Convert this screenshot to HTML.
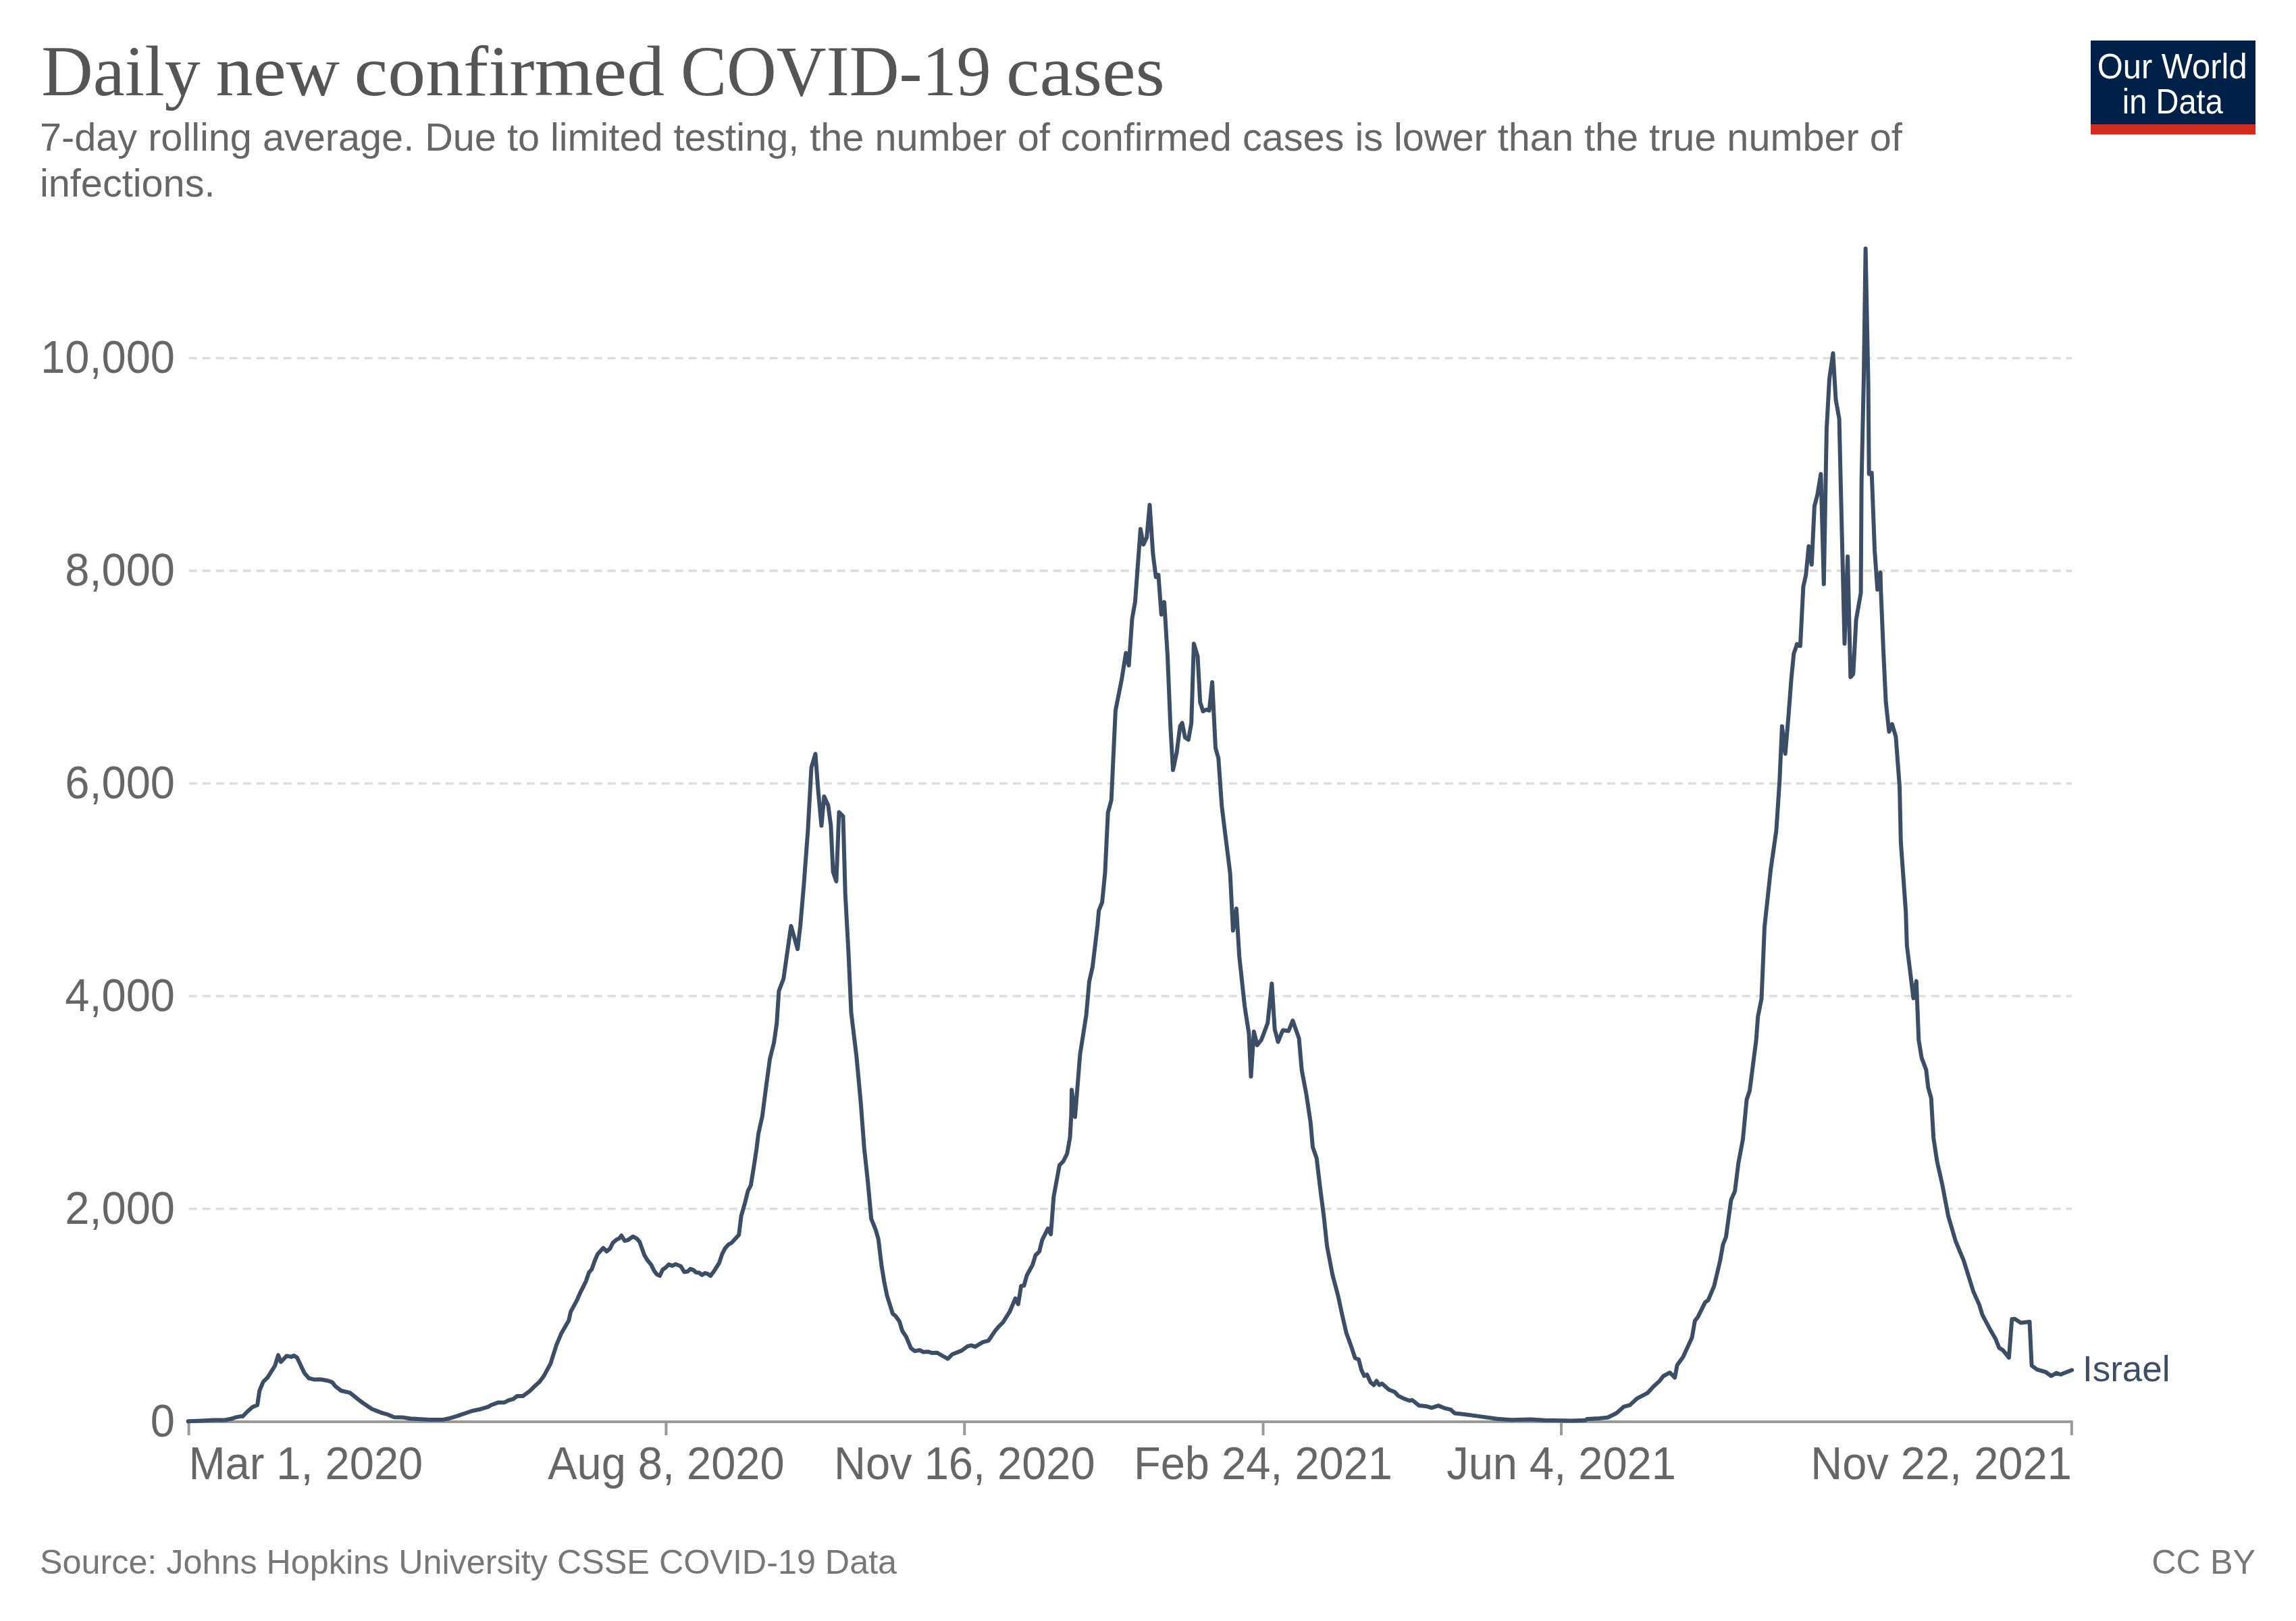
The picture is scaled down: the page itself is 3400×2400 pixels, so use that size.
<!DOCTYPE html>
<html><head><meta charset="utf-8">
<style>
html,body{margin:0;padding:0;background:#fff;}
body{width:3400px;height:2400px;overflow:hidden;}
svg{display:block;}
.grid{stroke:#ddd;stroke-width:3.6;stroke-dasharray:12 8;}
.axis{stroke:#999;stroke-width:4;}
.ylab{font-family:"Liberation Sans",sans-serif;font-size:65px;fill:#666;text-anchor:end;}
.xlab{font-family:"Liberation Sans",sans-serif;font-size:65px;fill:#666;}
.title{font-family:"Liberation Serif",serif;font-size:106.6px;fill:#555;}
.sub{font-family:"Liberation Sans",sans-serif;font-size:57.64px;fill:#666;}
.foot{font-family:"Liberation Sans",sans-serif;font-size:50.3px;fill:#777;}
.logo{font-family:"Liberation Sans",sans-serif;font-size:52px;fill:#fff;}
</style></head><body>
<svg width="3400" height="2400" viewBox="0 0 3400 2400">
<rect x="0" y="0" width="3400" height="2400" fill="#fff"/>
<text transform="translate(61.32 140.7) scale(0.9936 1)" class="title">Daily</text>
<text transform="translate(319.53 140.7) scale(1.0343 1)" class="title">new</text>
<text transform="translate(524.60 140.7) scale(1.0490 1)" class="title">confirmed</text>
<text transform="translate(1007.97 140.7) scale(0.9584 1)" class="title">COVID-19</text>
<text transform="translate(1490.02 140.7) scale(1.0442 1)" class="title">cases</text>

<text x="59" y="222.6" class="sub">7-day rolling average. Due to limited testing, the number of confirmed cases is lower than the true number of</text>
<text x="59" y="291.4" class="sub">infections.</text>
<rect x="3096" y="60" width="244" height="124" fill="#002147"/>
<rect x="3096" y="184" width="244" height="15" fill="#d42b21"/>
<text x="3216.7" y="115.8" class="logo" text-anchor="middle" textLength="222" lengthAdjust="spacingAndGlyphs">Our World</text>
<text x="3217.3" y="168" class="logo" text-anchor="middle" textLength="149" lengthAdjust="spacingAndGlyphs">in Data</text>
<line x1="279.6" y1="530.2" x2="3068" y2="530.2" class="grid"/>
<text transform="translate(259 551.5) scale(1 1.046)" class="ylab">10,000</text>
<line x1="279.6" y1="845.1" x2="3068" y2="845.1" class="grid"/>
<text transform="translate(259 866.6) scale(1 1.046)" class="ylab">8,000</text>
<line x1="279.6" y1="1160.0" x2="3068" y2="1160.0" class="grid"/>
<text transform="translate(259 1181.7) scale(1 1.046)" class="ylab">6,000</text>
<line x1="279.6" y1="1474.8" x2="3068" y2="1474.8" class="grid"/>
<text transform="translate(259 1496.7) scale(1 1.046)" class="ylab">4,000</text>
<line x1="279.6" y1="1789.7" x2="3068" y2="1789.7" class="grid"/>
<text transform="translate(259 1811.8) scale(1 1.046)" class="ylab">2,000</text>
<text transform="translate(259 2126.9) scale(1 1.046)" class="ylab">0</text>

<line x1="279.6" y1="2105" x2="3069.6" y2="2105" class="axis"/>
<line x1="279.6" y1="2105" x2="279.6" y2="2125" class="axis"/>
<text transform="translate(279.4 2189.9) scale(1 1.04)" class="xlab" text-anchor="start">Mar 1, 2020</text>
<line x1="986.4" y1="2105" x2="986.4" y2="2125" class="axis"/>
<text transform="translate(986.4 2189.9) scale(1 1.04)" class="xlab" text-anchor="middle">Aug 8, 2020</text>
<line x1="1428.3" y1="2105" x2="1428.3" y2="2125" class="axis"/>
<text transform="translate(1428.3 2189.9) scale(1 1.04)" class="xlab" text-anchor="middle">Nov 16, 2020</text>
<line x1="1870.5" y1="2105" x2="1870.5" y2="2125" class="axis"/>
<text transform="translate(1870.5 2189.9) scale(1 1.04)" class="xlab" text-anchor="middle">Feb 24, 2021</text>
<line x1="2312.0" y1="2105" x2="2312.0" y2="2125" class="axis"/>
<text transform="translate(2312.0 2189.9) scale(1 1.04)" class="xlab" text-anchor="middle">Jun 4, 2021</text>
<line x1="3067.8" y1="2105" x2="3067.8" y2="2125" class="axis"/>
<text transform="translate(3067.8 2189.9) scale(1 1.04)" class="xlab" text-anchor="end">Nov 22, 2021</text>

<path d="M278.7 2104.3 L298.3 2103.6 L317.9 2102.5 L333.2 2102.5 L341.9 2100.8 L348.4 2098.6 L356.0 2097.1 L359.3 2097.1 L365.8 2090.5 L373.4 2083.6 L381.1 2080.3 L384.3 2059.0 L389.8 2045.9 L396.3 2039.4 L407.2 2022.0 L412.0 2006.3 L415.9 2016.5 L424.6 2007.4 L431.1 2008.9 L435.5 2007.1 L439.9 2010.0 L450.7 2032.8 L457.3 2040.5 L466.0 2042.6 L474.7 2042.2 L485.6 2044.2 L492.1 2046.6 L496.5 2052.4 L505.2 2059.0 L518.3 2062.2 L529.1 2070.9 L537.9 2077.5 L550.9 2086.2 L566.2 2092.1 L572.7 2093.8 L583.6 2098.2 L596.7 2098.6 L607.5 2100.3 L635.9 2102.1 L655.5 2102.1 L664.2 2100.3 L675.1 2097.1 L699.0 2089.0 L712.1 2086.2 L723.0 2082.9 L727.3 2080.3 L738.2 2076.4 L746.9 2076.4 L753.4 2073.1 L757.8 2072.0 L760.0 2071.3 L765.7 2067.0 L774.2 2067.0 L784.1 2059.9 L791.2 2052.8 L798.3 2046.6 L805.4 2037.2 L815.3 2018.8 L823.8 1991.8 L830.9 1974.8 L842.3 1955.0 L845.1 1942.2 L855.0 1923.8 L859.3 1913.8 L867.8 1896.8 L872.1 1884.0 L876.3 1879.2 L880.6 1867.0 L884.8 1857.1 L893.3 1847.7 L898.4 1852.8 L903.3 1848.6 L907.5 1840.1 L913.2 1835.2 L916.6 1833.8 L920.3 1829.3 L925.1 1837.2 L930.2 1835.8 L937.3 1830.7 L943.0 1833.8 L947.2 1838.7 L954.3 1858.5 L958.6 1865.6 L964.3 1872.7 L968.5 1881.2 L972.8 1886.9 L977.0 1888.9 L981.3 1879.8 L985.5 1877.0 L990.4 1872.1 L995.5 1874.1 L1000.6 1871.8 L1008.2 1874.7 L1013.3 1883.2 L1018.2 1882.6 L1022.4 1878.7 L1026.7 1880.4 L1030.9 1884.0 L1035.2 1884.3 L1039.4 1887.7 L1043.7 1884.9 L1047.9 1886.0 L1052.2 1888.9 L1057.9 1881.2 L1065.0 1869.9 L1069.2 1857.1 L1073.5 1848.6 L1079.1 1842.3 L1083.4 1840.1 L1094.2 1828.2 L1097.6 1800.4 L1103.3 1780.5 L1107.5 1763.5 L1111.8 1755.0 L1116.0 1729.4 L1120.3 1701.1 L1123.1 1678.4 L1128.8 1652.8 L1134.1 1611.8 L1140.1 1567.7 L1146.1 1543.6 L1150.2 1515.5 L1153.4 1467.3 L1160.2 1449.3 L1171.4 1371.0 L1181.1 1405.1 L1185.1 1371.0 L1190.3 1310.8 L1196.3 1230.6 L1201.5 1136.3 L1207.5 1116.2 L1211.6 1170.4 L1216.4 1222.6 L1220.4 1179.2 L1226.4 1192.5 L1230.4 1222.6 L1233.6 1290.8 L1238.4 1304.8 L1242.5 1202.5 L1248.5 1208.5 L1251.7 1322.9 L1256.5 1411.2 L1260.5 1499.4 L1268.5 1565.7 L1274.6 1631.9 L1279.8 1700.5 L1285.1 1749.3 L1290.2 1804.6 L1296.5 1820.2 L1300.7 1834.4 L1305.5 1874.1 L1309.2 1896.8 L1313.5 1918.1 L1322.0 1945.1 L1326.3 1948.5 L1331.9 1956.4 L1336.2 1970.6 L1341.9 1979.1 L1349.0 1996.2 L1354.6 2000.4 L1361.7 1999.0 L1367.4 2001.8 L1374.5 2001.3 L1380.2 2003.2 L1387.3 2002.7 L1395.8 2007.5 L1403.7 2011.8 L1410.0 2005.2 L1424.1 1999.6 L1432.7 1993.3 L1438.3 1991.9 L1444.0 1993.9 L1455.4 1987.1 L1463.9 1984.8 L1473.8 1970.1 L1479.5 1963.5 L1485.2 1957.8 L1495.1 1942.2 L1503.6 1922.4 L1507.8 1930.9 L1512.1 1903.9 L1516.4 1903.4 L1520.6 1888.3 L1529.1 1872.7 L1533.4 1858.5 L1539.1 1852.9 L1543.3 1835.8 L1551.8 1818.8 L1556.1 1827.3 L1560.3 1772.0 L1568.9 1725.2 L1574.5 1719.5 L1580.2 1708.2 L1584.5 1684.0 L1586.4 1650.0 L1587.0 1613.6 L1592.0 1653.7 L1599.4 1561.1 L1608.6 1502.5 L1613.0 1453.1 L1617.9 1431.5 L1625.3 1369.8 L1627.2 1348.1 L1632.1 1335.8 L1636.4 1292.6 L1640.7 1203.1 L1645.7 1184.6 L1651.9 1051.9 L1661.1 1005.6 L1667.3 966.7 L1671.6 985.2 L1676.5 916.0 L1680.9 891.4 L1688.9 783.3 L1693.2 806.2 L1698.1 795.7 L1702.5 747.5 L1707.4 820.4 L1711.7 854.3 L1715.4 851.2 L1719.8 909.9 L1724.1 891.4 L1729.0 971.6 L1733.3 1076.5 L1737.0 1140.1 L1742.6 1113.6 L1747.5 1075.3 L1750.6 1070.4 L1754.9 1092.0 L1759.9 1095.1 L1764.2 1070.4 L1767.9 953.1 L1773.5 971.6 L1777.2 1039.5 L1781.5 1053.1 L1786.4 1050.6 L1790.7 1051.9 L1795.1 1009.9 L1800.0 1107.4 L1804.3 1122.8 L1809.3 1193.8 L1815.4 1243.2 L1821.6 1292.6 L1825.9 1377.8 L1830.9 1345.1 L1835.2 1416.0 L1843.2 1490.1 L1849.4 1530.2 L1852.5 1593.8 L1856.8 1527.2 L1861.7 1547.5 L1867.9 1539.5 L1877.2 1514.8 L1883.3 1456.2 L1887.7 1524.1 L1892.6 1542.6 L1898.8 1527.2 L1900.0 1525.3 L1908.1 1526.5 L1914.3 1511.1 L1923.6 1537.5 L1927.7 1584.4 L1934.6 1621.0 L1940.7 1661.7 L1944.0 1698.4 L1949.7 1714.7 L1955.0 1759.4 L1960.3 1800.2 L1965.1 1845.0 L1973.3 1887.7 L1981.4 1918.2 L1987.5 1946.7 L1993.6 1973.2 L2001.0 1993.6 L2006.7 2010.7 L2012.0 2012.7 L2016.0 2028.2 L2020.1 2037.1 L2024.2 2035.1 L2029.5 2046.5 L2034.4 2050.6 L2038.4 2044.5 L2042.5 2050.6 L2046.6 2048.5 L2056.8 2057.5 L2064.9 2060.7 L2071.0 2066.9 L2079.2 2070.9 L2087.3 2073.8 L2091.4 2073.0 L2101.5 2081.1 L2111.7 2081.9 L2119.9 2084.4 L2130.0 2081.1 L2140.2 2085.2 L2148.4 2087.2 L2154.5 2092.5 L2168.7 2094.1 L2193.2 2097.4 L2217.6 2100.7 L2237.9 2102.3 L2266.4 2101.5 L2286.8 2102.7 L2327.5 2103.5 L2347.9 2102.7 L2350.0 2101.0 L2367.5 2100.1 L2380.7 2098.8 L2393.8 2092.2 L2404.8 2082.6 L2413.5 2080.4 L2424.5 2070.3 L2439.8 2062.4 L2448.6 2052.8 L2457.3 2044.9 L2463.0 2037.5 L2472.7 2032.2 L2480.1 2039.6 L2483.6 2021.2 L2492.4 2009.0 L2505.5 1980.5 L2509.9 1955.5 L2514.3 1949.8 L2525.2 1927.9 L2529.6 1924.9 L2538.4 1903.8 L2547.2 1866.6 L2551.5 1842.5 L2555.9 1831.5 L2563.4 1776.8 L2569.1 1763.6 L2574.3 1722.0 L2580.9 1687.0 L2586.6 1627.8 L2591.0 1614.7 L2600.6 1540.2 L2603.2 1505.1 L2608.5 1478.9 L2613.0 1372.2 L2622.2 1287.0 L2630.4 1229.6 L2635.2 1157.4 L2638.9 1075.2 L2643.7 1115.9 L2648.1 1064.8 L2652.6 1005.6 L2656.3 967.8 L2661.1 953.7 L2665.9 956.3 L2670.4 868.5 L2674.3 851.2 L2678.4 808.8 L2682.8 835.9 L2686.9 749.4 L2691.3 732.4 L2696.4 701.8 L2700.8 864.8 L2704.9 635.6 L2709.0 560.9 L2714.4 522.9 L2718.5 591.5 L2723.6 620.3 L2725.9 720.5 L2731.5 953.0 L2736.1 823.9 L2740.3 1002.5 L2744.3 998.0 L2748.6 917.8 L2755.6 877.7 L2756.6 715.0 L2759.9 560.8 L2762.6 368.0 L2766.6 567.6 L2767.7 701.7 L2771.7 700.0 L2776.1 815.4 L2780.2 873.1 L2784.6 847.6 L2785.2 872.2 L2788.9 961.1 L2792.6 1038.9 L2797.4 1083.3 L2801.9 1072.2 L2807.4 1090.7 L2813.0 1164.8 L2814.8 1246.3 L2822.2 1350.0 L2823.8 1400.0 L2828.2 1435.0 L2833.4 1478.0 L2837.8 1452.6 L2841.3 1540.1 L2845.7 1566.4 L2852.3 1583.9 L2855.3 1610.2 L2859.7 1625.5 L2863.2 1684.7 L2868.5 1719.7 L2876.4 1754.7 L2885.1 1800.7 L2896.1 1838.0 L2907.9 1866.4 L2922.3 1912.4 L2931.1 1932.1 L2935.5 1946.6 L2946.4 1967.2 L2955.2 1982.5 L2960.4 1995.6 L2966.1 1999.1 L2974.9 2010.1 L2979.3 1953.1 L2983.6 1952.7 L2992.4 1958.4 L3005.5 1957.1 L3008.6 2021.9 L3016.5 2027.6 L3029.6 2031.5 L3037.5 2037.2 L3045.0 2032.8 L3051.5 2035.0 L3060.3 2031.5 L3068.2 2028.5" fill="none" stroke="#3c4e66" stroke-width="6" stroke-linejoin="round" stroke-linecap="round"/>
<text x="3084" y="2044.8" font-family="Liberation Sans, sans-serif" font-size="53" fill="#3c4e66">Israel</text>
<text x="59" y="2329.8" class="foot">Source: Johns Hopkins University CSSE COVID-19 Data</text>
<text x="3340" y="2329.5" class="foot" text-anchor="end">CC BY</text>
</svg>
</body></html>
